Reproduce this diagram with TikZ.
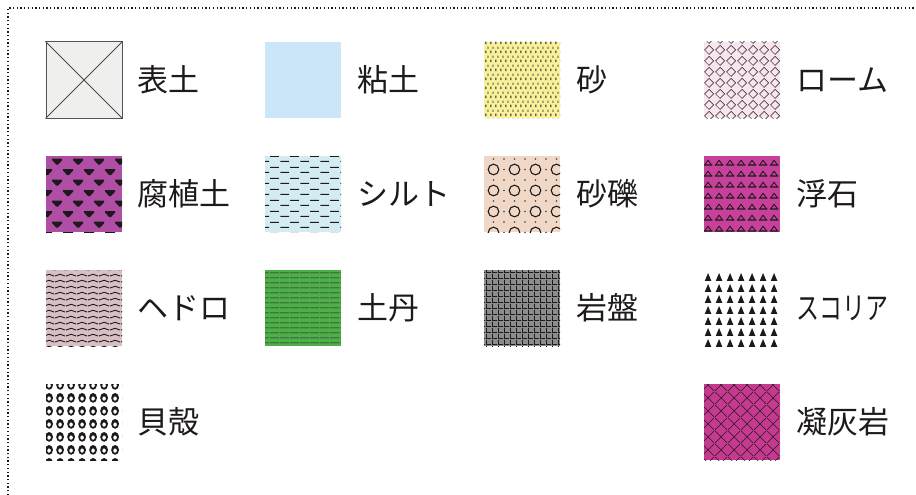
\documentclass[tikz,border=0pt]{standalone}
\usepackage{fontspec}
\newfontfamily\jpfont{Noto Sans CJK JP}
\usetikzlibrary{positioning,patterns}

\definecolor{topsoil}{HTML}{EFEFED}
\definecolor{clay}{HTML}{CBE6F8}
\definecolor{sand}{HTML}{F7F19B}
\definecolor{loam}{HTML}{F8E5EF}
\definecolor{humus}{HTML}{B04EA6}
\definecolor{silt}{HTML}{D2ECF2}
\definecolor{gravel}{HTML}{F1D8C6}
\definecolor{pumice}{HTML}{C7419B}
\definecolor{sludge}{HTML}{D6C0C4}
\definecolor{dotan}{HTML}{4EAE4A}
\definecolor{bedrock}{HTML}{8D8D8D}
\definecolor{tuff}{HTML}{C53A8E}
\definecolor{ink}{HTML}{1E1A1C}

% swatch patterns
\pgfdeclarepatternformonly{sandpat}{\pgfpointorigin}{\pgfqpoint{5pt}{9pt}}{\pgfqpoint{5pt}{9pt}}{%
  \pgfpathrectangle{\pgfqpoint{0.5pt}{1pt}}{\pgfqpoint{1.1pt}{2.6pt}}%
  \pgfpathrectangle{\pgfqpoint{3pt}{5.5pt}}{\pgfqpoint{1.1pt}{2.6pt}}%
  \pgfusepath{fill}}
\pgfdeclarepatternformonly{loampat}{\pgfpointorigin}{\pgfqpoint{11pt}{11pt}}{\pgfqpoint{11pt}{11pt}}{%
  \pgfsetlinewidth{0.5pt}%
  \pgfpathmoveto{\pgfqpoint{0.6pt}{5.5pt}}%
  \pgfpathlineto{\pgfqpoint{5.5pt}{10.4pt}}%
  \pgfpathlineto{\pgfqpoint{10.4pt}{5.5pt}}%
  \pgfpathlineto{\pgfqpoint{5.5pt}{0.6pt}}%
  \pgfpathclose
  \pgfusepath{stroke}}
\pgfdeclarepatternformonly{humuspat}{\pgfpointorigin}{\pgfqpoint{21pt}{21.4pt}}{\pgfqpoint{21pt}{21.4pt}}{%
  \pgfpathmoveto{\pgfqpoint{0.05pt}{7pt}}%
  \pgfpathlineto{\pgfqpoint{10.45pt}{7pt}}%
  \pgfpathlineto{\pgfqpoint{10.45pt}{5.5pt}}%
  \pgfpathlineto{\pgfqpoint{6.25pt}{1pt}}%
  \pgfpathlineto{\pgfqpoint{4.25pt}{1pt}}%
  \pgfpathlineto{\pgfqpoint{0.05pt}{5.5pt}}%
  \pgfpathclose
  \pgfpathmoveto{\pgfqpoint{10.55pt}{17.7pt}}%
  \pgfpathlineto{\pgfqpoint{20.95pt}{17.7pt}}%
  \pgfpathlineto{\pgfqpoint{20.95pt}{16.2pt}}%
  \pgfpathlineto{\pgfqpoint{16.75pt}{11.7pt}}%
  \pgfpathlineto{\pgfqpoint{14.75pt}{11.7pt}}%
  \pgfpathlineto{\pgfqpoint{10.55pt}{16.2pt}}%
  \pgfpathclose
  \pgfusepath{fill}}
\pgfdeclarepatternformonly{siltpat}{\pgfpointorigin}{\pgfqpoint{20pt}{10.6pt}}{\pgfqpoint{20pt}{10.6pt}}{%
  \pgfpathrectangle{\pgfqpoint{0.5pt}{2.2pt}}{\pgfqpoint{9pt}{1pt}}%
  \pgfpathrectangle{\pgfqpoint{10.5pt}{7.5pt}}{\pgfqpoint{9pt}{1pt}}%
  \pgfusepath{fill}}
\pgfdeclarepatternformonly{gravelpat}{\pgfqpoint{-1pt}{-1pt}}{\pgfqpoint{20pt}{20pt}}{\pgfqpoint{21pt}{21pt}}{%
  \pgfsetlinewidth{1.1pt}%
  \pgfpathcircle{\pgfqpoint{10.5pt}{10.5pt}}{5.3pt}%
  \pgfusepath{stroke}%
  \pgfpathrectangle{\pgfqpoint{-0.65pt}{-0.65pt}}{\pgfqpoint{1.3pt}{1.3pt}}%
  \pgfpathrectangle{\pgfqpoint{9.85pt}{-0.65pt}}{\pgfqpoint{1.3pt}{1.3pt}}%
  \pgfpathrectangle{\pgfqpoint{-0.65pt}{9.85pt}}{\pgfqpoint{1.3pt}{1.3pt}}%
  \pgfusepath{fill}}
\pgfdeclarepatternformonly{pumicepat}{\pgfpointorigin}{\pgfqpoint{10.5pt}{10.5pt}}{\pgfqpoint{10.5pt}{10.5pt}}{%
  \pgfsetlinewidth{0.9pt}%
  \pgfpathmoveto{\pgfqpoint{1.8pt}{2.2pt}}%
  \pgfpathlineto{\pgfqpoint{5.2pt}{7pt}}%
  \pgfpathlineto{\pgfqpoint{8.8pt}{2.2pt}}%
  \pgfusepath{stroke}%
  \pgfpathrectangle{\pgfqpoint{1pt}{1.3pt}}{\pgfqpoint{8.6pt}{1.3pt}}%
  \pgfusepath{fill}}
\pgfdeclarepatternformonly{sludgepat}{\pgfpointorigin}{\pgfqpoint{11pt}{5.8pt}}{\pgfqpoint{11pt}{5.8pt}}{%
  \pgfsetlinewidth{0.9pt}%
  \pgfpathmoveto{\pgfqpoint{0pt}{2pt}}%
  \pgfpathcurveto{\pgfqpoint{2.75pt}{2pt}}{\pgfqpoint{2.75pt}{3.8pt}}{\pgfqpoint{5.5pt}{3.8pt}}%
  \pgfpathcurveto{\pgfqpoint{8.25pt}{3.8pt}}{\pgfqpoint{8.25pt}{2pt}}{\pgfqpoint{11pt}{2pt}}%
  \pgfusepath{stroke}}
\pgfdeclarepatternformonly{dotanpat}{\pgfpointorigin}{\pgfqpoint{10pt}{5.2pt}}{\pgfqpoint{10pt}{5.2pt}}{%
  \pgfpathrectangle{\pgfqpoint{0pt}{2pt}}{\pgfqpoint{10pt}{0.8pt}}%
  \pgfusepath{fill}}
\pgfdeclarepatternformonly{bedrockpat}{\pgfpointorigin}{\pgfqpoint{6pt}{6pt}}{\pgfqpoint{6pt}{6pt}}{%
  \pgfpathrectangle{\pgfqpoint{0pt}{0pt}}{\pgfqpoint{6pt}{0.9pt}}%
  \pgfpathrectangle{\pgfqpoint{0pt}{0pt}}{\pgfqpoint{0.9pt}{6pt}}%
  \pgfusepath{fill}}
\pgfdeclarepatternformonly{scoriapat}{\pgfpointorigin}{\pgfqpoint{10.5pt}{10.5pt}}{\pgfqpoint{10.5pt}{10.5pt}}{%
  \pgfpathmoveto{\pgfqpoint{1.9pt}{1.2pt}}%
  \pgfpathlineto{\pgfqpoint{8.6pt}{1.2pt}}%
  \pgfpathlineto{\pgfqpoint{5.25pt}{9.3pt}}%
  \pgfpathclose
  \pgfusepath{fill}}
\pgfdeclarepatternformonly{shellpat}{\pgfpointorigin}{\pgfqpoint{11pt}{13pt}}{\pgfqpoint{11pt}{13pt}}{%
  \pgfseteorule
  \pgfpathellipse{\pgfqpoint{5.5pt}{6.5pt}}{\pgfqpoint{4.2pt}{0pt}}{\pgfqpoint{0pt}{5.2pt}}%
  \pgfpathellipse{\pgfqpoint{5.5pt}{5.8pt}}{\pgfqpoint{2pt}{0pt}}{\pgfqpoint{0pt}{2.4pt}}%
  \pgfusepath{fill}}
\pgfdeclarepatternformonly{tuffpat}{\pgfpointorigin}{\pgfqpoint{13pt}{13pt}}{\pgfqpoint{13pt}{13pt}}{%
  \pgfsetlinewidth{0.6pt}%
  \pgfpathmoveto{\pgfqpoint{0pt}{0pt}}\pgfpathlineto{\pgfqpoint{13pt}{13pt}}%
  \pgfpathmoveto{\pgfqpoint{0pt}{13pt}}\pgfpathlineto{\pgfqpoint{13pt}{0pt}}%
  \pgfusepath{stroke}}

\tikzset{
  swatch/.style={rectangle, inner sep=0pt, minimum width=76pt, minimum height=76pt},
  hatch/.style={postaction={pattern=#1, pattern color=ink}},
  name label/.style={inner sep=0pt, anchor=west, text=ink,
    font=\jpfont\fontsize{31pt}{36pt}\selectfont},
}

\begin{document}
\begin{tikzpicture}[x=1pt, y=-1pt]
\useasboundingbox (0,0) rectangle (916,495);

% frame
\draw[ink, line width=1.3pt, dash pattern=on 1.3pt off 2.4pt] (8,495) -- (8,8) -- (916,8);

% row 1
\node[swatch, fill=topsoil, draw=ink!75, line width=1pt] (topsoil) at (84,80) {};
\draw[ink!80, line width=0.8pt] (topsoil.north west) -- (topsoil.south east)
  (topsoil.north east) -- (topsoil.south west);
\node[swatch, fill=clay] (clay) at (303,80) {};
\node[swatch, fill=sand, hatch=sandpat] (sand) at (522,80) {};
\node[swatch, fill=loam, hatch=loampat] (loam) at (742,80) {};

\node[name label, right=15pt of topsoil] (topsoil-t) {表土};
\node[name label, right=16pt of clay] (clay-t) {粘土};
\node[name label, right=16pt of sand] (sand-t) {砂};
\node[name label, right=16pt of loam] (loam-t) {ローム};

% row 2
\node[swatch, fill=humus, hatch=humuspat] (humus) at (84,194) {};
\node[swatch, fill=silt, hatch=siltpat] (silt) at (303,194) {};
\node[swatch, fill=gravel, hatch=gravelpat] (gravel) at (522,194) {};
\node[swatch, fill=pumice, hatch=pumicepat] (pumice) at (742,194) {};

\node[name label, right=15pt of humus] (humus-t) {腐植土};
\node[name label, right=16pt of silt] (silt-t) {シルト};
\node[name label, right=16pt of gravel] (gravel-t) {砂礫};
\node[name label, right=16pt of pumice] (pumice-t) {浮石};

% row 3
\node[swatch, fill=sludge, hatch=sludgepat] (sludge) at (84,308) {};
\node[swatch, fill=dotan, hatch=dotanpat] (dotan) at (303,308) {};
\node[swatch, fill=bedrock, hatch=bedrockpat] (bedrock) at (522,308) {};
\node[swatch, fill=white, hatch=scoriapat] (scoria) at (742,308) {};

\node[name label, right=15pt of sludge] (sludge-t) {ヘドロ};
\node[name label, right=16pt of dotan] (dotan-t) {土丹};
\node[name label, right=16pt of bedrock] (bedrock-t) {岩盤};
\node[name label, right=16pt of scoria] (scoria-t) {\scalebox{0.74}[1]{スコリア}};

% row 4
\node[swatch, fill=white, hatch=shellpat] (shell) at (84,422) {};
\node[swatch, fill=tuff, hatch=tuffpat] (tuff) at (742,422) {};

\node[name label, right=15pt of shell] (shell-t) {貝殻};
\node[name label, right=16pt of tuff] (tuff-t) {凝灰岩};

\end{tikzpicture}
\end{document}
